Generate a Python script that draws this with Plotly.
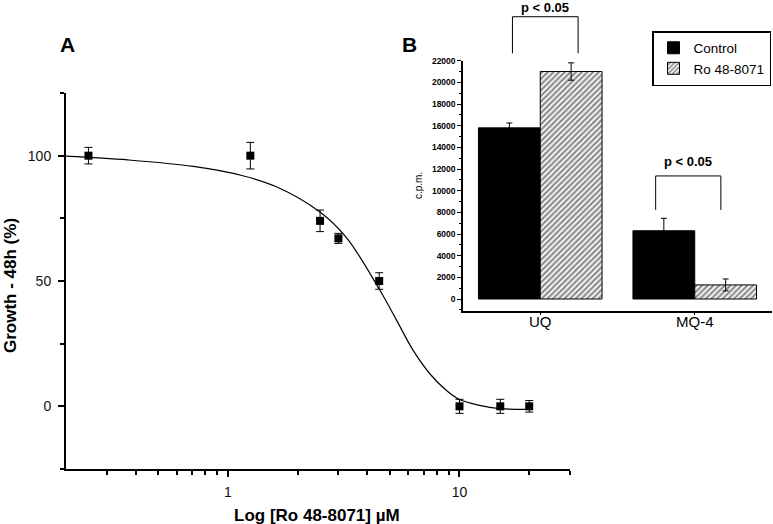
import math
import plotly.graph_objects as go

# ---------------- Panel A data ----------------
conc = [0.25, 1.25, 2.5, 3.0, 4.5, 10, 15, 20]
growth = [100, 100, 74, 67, 50, 0, 0, 0]
growth_err = [3.3, 5.3, 4.3, 2.0, 3.3, 2.8, 2.8, 2.3]
fit_x = [0.20, 0.37, 0.71, 1.16, 1.62, 2.49, 3.25, 4.52, 5.34, 6.29, 7.43, 8.76, 10.0, 12.2, 14.9, 20.0]
fit_y = [99.8, 98.3, 95.7, 92.0, 87.6, 77.6, 67.3, 46.5, 34.5, 22.5, 13.1, 6.4, 2.7, 0.4, -0.9, -1.2]
xticks_a = [1, 10]

# ---------------- Panel B data ----------------
categories = ["UQ", "MQ-4"]
control = [15800, 6300]
control_err = [450, 1150]
ro = [21000, 1300]
ro_err = [800, 550]
series_names = ["Control", "Ro 48-8071"]
sig_label = "p < 0.05"

# ---------------- layout geometry ----------------
W, H = 773, 524
ML, MR, MT, MB = 66, 1, 58, 55
PW, PH = W - ML - MR, H - MT - MB


def fx(px):
    return (px - ML) / PW


def fy(py):
    return (H - MB - py) / PH


Y2_RANGE = [-1080, 22000]
X2_RANGE = [-0.5, 1.5]


def dx2(c):
    return (c - X2_RANGE[0]) / (X2_RANGE[1] - X2_RANGE[0])


def dy2(v):
    return (v - Y2_RANGE[0]) / (Y2_RANGE[1] - Y2_RANGE[0])


FONT = "Liberation Sans, Arial, sans-serif"

fig = go.Figure()

fig.add_trace(go.Scatter(
    x=fit_x, y=fit_y, mode="lines",
    line=dict(color="black", width=1.2, shape="spline", smoothing=1.0),
    xaxis="x", yaxis="y", showlegend=False, hoverinfo="skip"))

fig.add_trace(go.Scatter(
    x=conc, y=growth, mode="markers",
    marker=dict(symbol="square", size=8, color="black"),
    error_y=dict(type="data", array=growth_err, color="black", thickness=1, width=4),
    xaxis="x", yaxis="y", showlegend=False))

fig.add_trace(go.Bar(
    x=categories, y=control, name=series_names[0],
    marker=dict(color="black", line=dict(color="black", width=1)),
    error_y=dict(type="data", array=control_err, color="black", thickness=1, width=3),
    xaxis="x2", yaxis="y2"))

fig.add_trace(go.Bar(
    x=categories, y=ro, name=series_names[1],
    marker=dict(color="white", line=dict(color="black", width=1),
                pattern=dict(shape="/", fgcolor="#1a1a1a", bgcolor="white", size=4, solidity=0.55)),
    error_y=dict(type="data", array=ro_err, color="black", thickness=1, width=3),
    xaxis="x2", yaxis="y2"))

axis_common = dict(showgrid=False, zeroline=False, showline=True, linecolor="black",
                   ticks="outside", tickcolor="black")

fig.update_layout(
    width=W, height=H,
    margin=dict(l=ML, r=MR, t=MT, b=MB, autoexpand=False),
    paper_bgcolor="white", plot_bgcolor="rgba(0,0,0,0)",
    font=dict(family=FONT, color="#111"),
    barmode="group", bargap=0.2, bargroupgap=0,
    xaxis=dict(**axis_common, type="log", range=[math.log10(0.2), math.log10(30)],
               domain=[0, fx(570)], anchor="y", linewidth=2, tickwidth=2, ticklen=6,
               tickvals=xticks_a, ticktext=[str(v) for v in xticks_a],
               tickfont=dict(size=14), ticklabelstandoff=3,
               minor=dict(ticks="outside", ticklen=4, tickwidth=1.5, tickcolor="black",
                          tickvals=[0.3, 0.4, 0.5, 0.6, 0.7, 0.8, 0.9, 2, 3, 4, 5, 6, 7, 8, 9, 20, 30])),
    yaxis=dict(**axis_common, range=[-25, 125], domain=[0, fy(93)], anchor="x",
               linewidth=2, tickwidth=2, ticklen=6, tick0=0, dtick=50,
               tickfont=dict(size=14), ticklabelstandoff=4,
               minor=dict(ticks="outside", ticklen=4, tickwidth=1.5, tickcolor="black", dtick=25, tick0=0)),
    xaxis2=dict(**axis_common, type="category", range=X2_RANGE, domain=[fx(463), 1.0],
                anchor="y2", linewidth=1.5, tickwidth=1, ticklen=3, ticklabelstandoff=-6,
                tickfont=dict(size=15, color="black")),
    yaxis2=dict(**axis_common, range=Y2_RANGE, domain=[fy(310.7), fy(60.7)], anchor="x2",
                linewidth=1.5, tickwidth=1, ticklen=4, tick0=0, dtick=2000, tickformat="d",
                tickfont=dict(size=8.5, weight="bold", color="black"),
                minor=dict(ticks="outside", ticklen=2.5, tickwidth=1, tickcolor="black", dtick=1000, tick0=0)),
    legend=dict(x=fx(652), y=fy(31), xanchor="left", yanchor="top",
                bordercolor="black", borderwidth=1.5, bgcolor="white",
                font=dict(size=13.5, color="black"), tracegroupgap=0),
)

# panel labels and axis titles
ann = [
    dict(text="<b>A</b>", x=fx(67), y=fy(44.5), font=dict(size=21, color="black")),
    dict(text="<b>B</b>", x=fx(409.5), y=fy(44), font=dict(size=21, color="black")),
    dict(text="<b>Growth - 48h (%)</b>", x=fx(10), y=fy(286), textangle=-90,
         font=dict(size=17, color="black")),
    dict(text="<b>Log [Ro 48-8071] µM</b>", x=fx(316.5), y=fy(515),
         font=dict(size=17, color="black")),
    dict(text="c.p.m.", x=fx(418), y=fy(186), textangle=-90,
         font=dict(size=10, color="black")),
]
for a in ann:
    fig.add_annotation(xref="paper", yref="paper", showarrow=False,
                       xanchor="center", yanchor="middle", **a)

# significance brackets (x in category units, y in c.p.m.)
brackets = [(-0.18, 0.245, 22680, 26060, 26910), (0.747, 1.169, 8220, 11360, 12680)]
for xl, xr, yb, yt, ytxt in brackets:
    for (x0, y0, x1, y1) in [(xl, yb, xl, yt), (xl, yt, xr, yt), (xr, yt, xr, yb)]:
        fig.add_shape(type="line", xref="x2 domain", yref="y2 domain",
                      x0=dx2(x0), y0=dy2(y0), x1=dx2(x1), y1=dy2(y1),
                      line=dict(color="black", width=1))
    fig.add_annotation(xref="x2 domain", yref="y2 domain", x=dx2((xl + xr) / 2), y=dy2(ytxt),
                       text="<b>" + sig_label + "</b>", showarrow=False,
                       xanchor="center", yanchor="middle", font=dict(size=13, color="black"))

fig.write_html("out.html", config={"displayModeBar": False},
               post_script="document.body.style.margin='0px';document.body.style.overflow='hidden';")
